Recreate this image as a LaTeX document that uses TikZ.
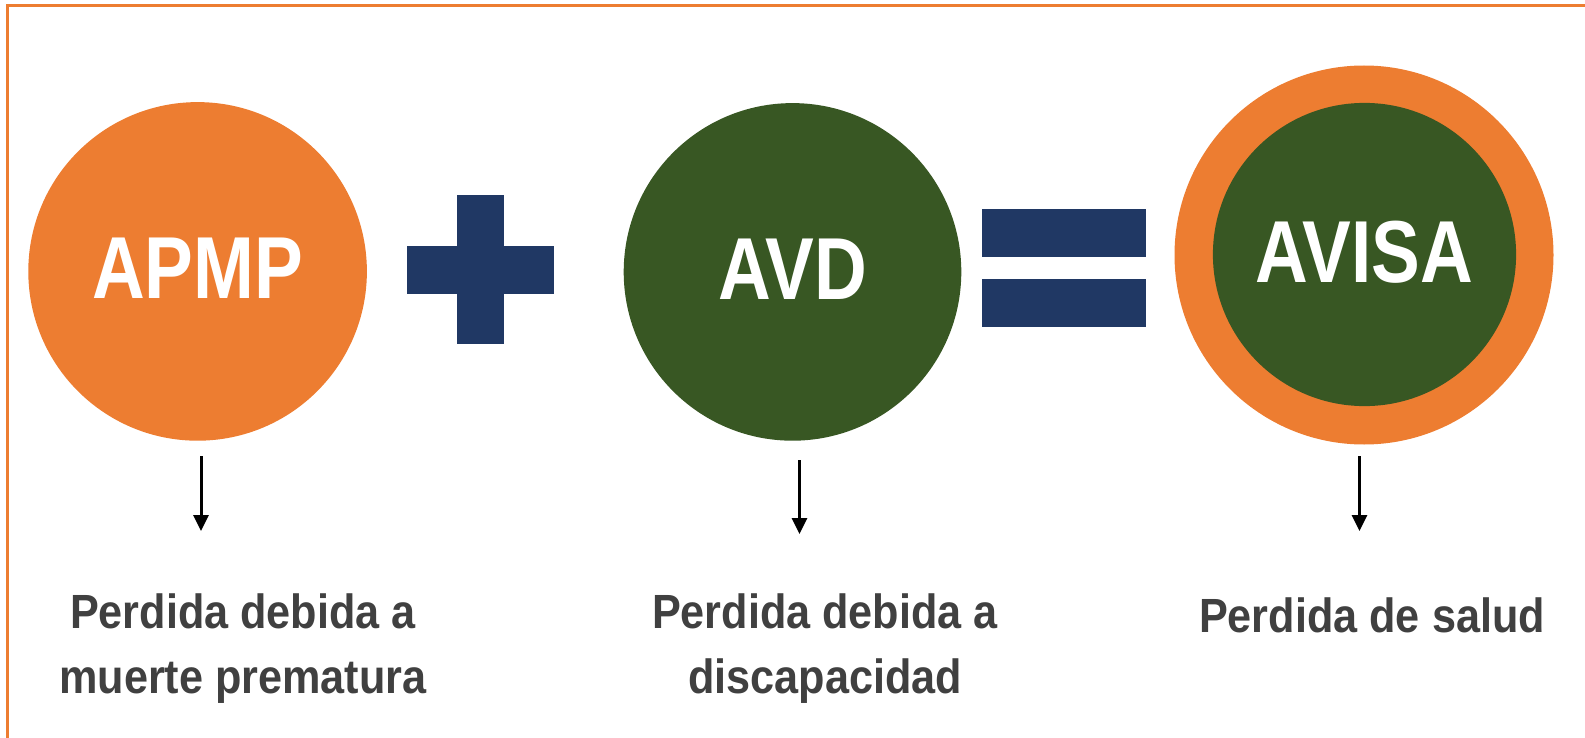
\documentclass[tikz,border=0pt]{standalone}
\usepackage{fontspec}
\setmainfont{Liberation Sans}
\newfontfamily\labelfont[FakeStretch=0.83]{Liberation Sans}
\newfontfamily\notefont[FakeStretch=0.90]{Liberation Sans}
\usetikzlibrary{arrows.meta}
\definecolor{avorange}{HTML}{ED7D31}
\definecolor{avgreen}{HTML}{385723}
\definecolor{avnavy}{HTML}{203864}
\definecolor{avgray}{HTML}{404040}
\tikzset{
  disk/.style={circle, inner sep=0pt, text=white, text depth=3pt,
    font=\labelfont\bfseries\fontsize{44}{52}\selectfont},
  note/.style={align=center, text=avgray,
    font=\notefont\bfseries\fontsize{24}{32.5}\selectfont},
  downarrow/.style={line width=1.5pt, -{Triangle[width=7.5pt,length=8pt]}}
}
\begin{document}
\begin{tikzpicture}[x=0.5pt,y=-0.5pt]
          \useasboundingbox (0,0) rectangle (1585,738);
          % frame
          \draw[avorange, line width=1.5pt] (7,738) -- (7,6) -- (1585,6);

          % APMP
          \node[disk, fill=avorange, minimum size=169.3pt] (apmp) at (197.6,271.4) {APMP};
          % plus
          \fill[avnavy] (407,246) rectangle (554,294);
          \fill[avnavy] (457,195) rectangle (504,344);
          % AVD
          \node[disk, fill=avgreen, minimum size=168.8pt] (avd) at (792.5,271.9) {AVD};
          % equals
          \fill[avnavy] (982,209) rectangle (1146,257);
          \fill[avnavy] (982,279) rectangle (1146,327);
          % AVISA
          \node[circle, inner sep=0pt, fill=avorange, minimum size=189.5pt] (avisaring) at (1364,255) {};
          \node[disk, fill=avgreen, minimum size=151.6pt] (avisa) at (1364.5,254.5) {AVISA};

          % arrows
          \foreach \name/\x/\ya/\yb in {a/201/456/531, b/799.5/460/534, c/1359.5/456/531} {
            \coordinate (\name top) at (\x,\ya);
            \coordinate (\name tip) at (\x,\yb);
            \draw[downarrow] (\name top) -- (\name tip);
          }

          % notes
          \node[note, anchor=base] (apmpnote) at (243,693.4) {Perdida debida a\\muerte prematura};
          \node[note, anchor=base] (avdnote) at (825,693.4) {Perdida debida a\\discapacidad};
          \node[note, anchor=base] (avisanote) at (1372,632) {Perdida de salud};
\end{tikzpicture}
\end{document}
